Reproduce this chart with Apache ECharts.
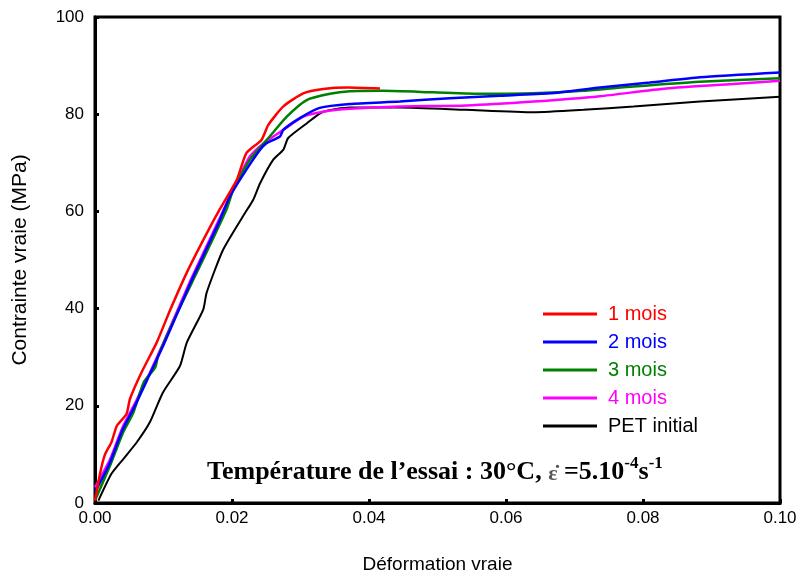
<!DOCTYPE html>
<html>
<head>
<meta charset="utf-8">
<script src="https://cdn.jsdelivr.net/npm/echarts@6/dist/echarts.min.js"></script>
<style>
  html, body { margin: 0; padding: 0; background: #fff; }
  #chart { width: 803px; height: 579px; }
</style>
</head>
<body>
<div id="chart"></div>
<script>
// Courbes contrainte / déformation vraies
const seriesNames = ['1 mois', '2 mois', '3 mois', '4 mois', 'PET initial']
const seriesColors = ['#ff0000', '#0000ff', '#008000', '#ff00ff', '#000000']

const mois1 = [
  [0, 0.5], [0.00024, 2.3], [0.0008, 6.5], [0.00146, 10], [0.0024, 12.5], [0.0032, 15.9],
  [0.0046, 18.3], [0.0051, 21.4], [0.0068, 26.9], [0.009, 33], [0.011, 39.8],
  [0.0134, 47.4], [0.0161, 54.9], [0.0182, 60.4], [0.0207, 66.5], [0.0221, 72],
  [0.0243, 74.7], [0.0253, 77.8], [0.0275, 81.6], [0.0304, 84.3], [0.0333, 85.2],
  [0.0369, 85.5], [0.0416, 85.3]
]
const mois2 = [
  [0, 2.2], [0.0022, 8.4], [0.004, 15], [0.006, 20.5], [0.008, 26.5], [0.010, 32.5],
  [0.012, 39], [0.014, 45.5], [0.016, 51.5], [0.018, 57.5], [0.0197, 63.1],
  [0.0221, 68.6], [0.0241, 72.7], [0.025, 74], [0.027, 75.4], [0.0275, 76.8],
  [0.0299, 79.2], [0.0328, 81.3], [0.0372, 82.1], [0.0445, 82.6], [0.0518, 83.3],
  [0.0591, 83.8], [0.0664, 84.3], [0.0737, 85.5], [0.081, 86.5], [0.0883, 87.6],
  [0.1, 88.6]
]
const mois3 = [
  [0, 0.5], [0.0022, 7.7], [0.0041, 14.5], [0.0056, 18.6], [0.0071, 24.8],
  [0.0088, 27.9], [0.0092, 30.2], [0.0119, 38.8], [0.0153, 48.7], [0.0192, 60.4],
  [0.0202, 64.5], [0.0226, 70.6], [0.0255, 75.4], [0.028, 79.5], [0.0309, 82.9],
  [0.0343, 84.2], [0.0372, 84.7], [0.0421, 84.8], [0.0494, 84.5], [0.0567, 84.2],
  [0.064, 84.3], [0.0713, 84.8], [0.0786, 85.7], [0.0883, 86.7], [0.1, 87.4]
]
const mois4 = [
  [0, 3.2], [0.0022, 9], [0.004, 15.5], [0.006, 21], [0.008, 26.8], [0.010, 33],
  [0.012, 39.5], [0.014, 46], [0.016, 52], [0.018, 58], [0.020, 64],
  [0.0226, 71.3], [0.0246, 74], [0.0275, 76.8], [0.0304, 79.5], [0.0333, 80.5],
  [0.0372, 81.1], [0.0445, 81.6], [0.0542, 81.8], [0.064, 82.6], [0.0737, 83.7],
  [0.0834, 85.3], [0.0931, 86.2], [0.1, 86.9]
]
const petInitial = [
  [0.0005, 0.5], [0.0024, 6], [0.0041, 9], [0.0061, 12.5], [0.008, 16.6],
  [0.0099, 22.7], [0.0124, 28.2], [0.0134, 33], [0.0158, 39.8], [0.0163, 43.3],
  [0.0187, 52.1], [0.0216, 59], [0.0231, 62.4], [0.0241, 65.8], [0.026, 70.6],
  [0.0275, 72.7], [0.0282, 75.1], [0.0309, 78.1], [0.0333, 80.5], [0.0372, 81.4],
  [0.0445, 81.4], [0.0542, 80.9], [0.064, 80.4], [0.0713, 80.9], [0.0786, 81.6],
  [0.0883, 82.6], [0.1, 83.6]
]
const allData = [mois1, mois2, mois3, mois4, petInitial]

const FONT = 'Liberation Sans, Arial, sans-serif'
const SERIF = 'Liberation Serif, Times New Roman, serif'

const chart = echarts.init(document.getElementById('chart'))

const option = {
  backgroundColor: '#fff',
  animation: false,
  grid: {
    left: 95, top: 17, right: 23, bottom: 75,
    show: true, borderColor: '#000', borderWidth: 3
  },
  legend: {
    orient: 'vertical',
    left: 538, top: 299,
    itemWidth: 54, itemHeight: 3, itemGap: 8,
    icon: 'rect',
    data: seriesNames.map((n, i) => ({ name: n, textStyle: { color: seriesColors[i] } })),
    textStyle: { fontFamily: FONT, fontSize: 20, lineHeight: 20, padding: [0, 0, 0, 6] }
  },
  xAxis: {
    type: 'value', min: 0, max: 0.1, interval: 0.02,
    name: 'Déformation vraie', nameLocation: 'middle', nameGap: 52,
    nameTextStyle: { fontFamily: FONT, fontSize: 19, color: '#000' },
    axisLine: { show: true, lineStyle: { color: '#000', width: 3 } },
    axisTick: { show: true, inside: true, length: 4, lineStyle: { color: '#000', width: 3 } },
    axisLabel: {
      formatter: v => v.toFixed(2), margin: 7,
      fontFamily: FONT, fontSize: 17, color: '#000'
    },
    splitLine: { show: false }
  },
  yAxis: {
    type: 'value', min: 0, max: 100, interval: 20,
    name: 'Contrainte vraie (MPa)', nameLocation: 'middle', nameGap: 64,
    nameTextStyle: { fontFamily: FONT, fontSize: 21, color: '#000' },
    axisLine: { show: true, lineStyle: { color: '#000', width: 3 } },
    axisTick: { show: true, inside: true, length: 4, lineStyle: { color: '#000', width: 3 } },
    axisLabel: {
      margin: 11,
      fontFamily: FONT, fontSize: 17, color: '#000'
    },
    splitLine: { show: false }
  },
  graphic: [{
    type: 'text',
    left: 207, top: 455,
    style: {
      text: '{b|Température de l’essai : 30°C, }{e|ε̇}{b| =5.10}{s|-4}{b|s}{s|-1}',
      rich: {
        b: { fontFamily: SERIF, fontWeight: 'bold', fontSize: 26, fill: '#000', verticalAlign: 'bottom', lineHeight: 30 },
        e: { fontFamily: SERIF, fontWeight: 'bold', fontSize: 22, fill: '#555', verticalAlign: 'bottom', lineHeight: 30 },
        s: { fontFamily: SERIF, fontWeight: 'bold', fontSize: 17, fill: '#000', verticalAlign: 'top', lineHeight: 30, padding: [0, 0, 12, 0] }
      }
    }
  }],
  series: allData.map((d, i) => ({
    name: seriesNames[i],
    type: 'line',
    data: d,
    showSymbol: false,
    smooth: 0.2,
    itemStyle: { color: seriesColors[i] },
    lineStyle: { color: seriesColors[i], width: i === 4 ? 2 : 2.5 },
    z: 5 - i
  }))
}

chart.setOption(option)
</script>
</body>
</html>
